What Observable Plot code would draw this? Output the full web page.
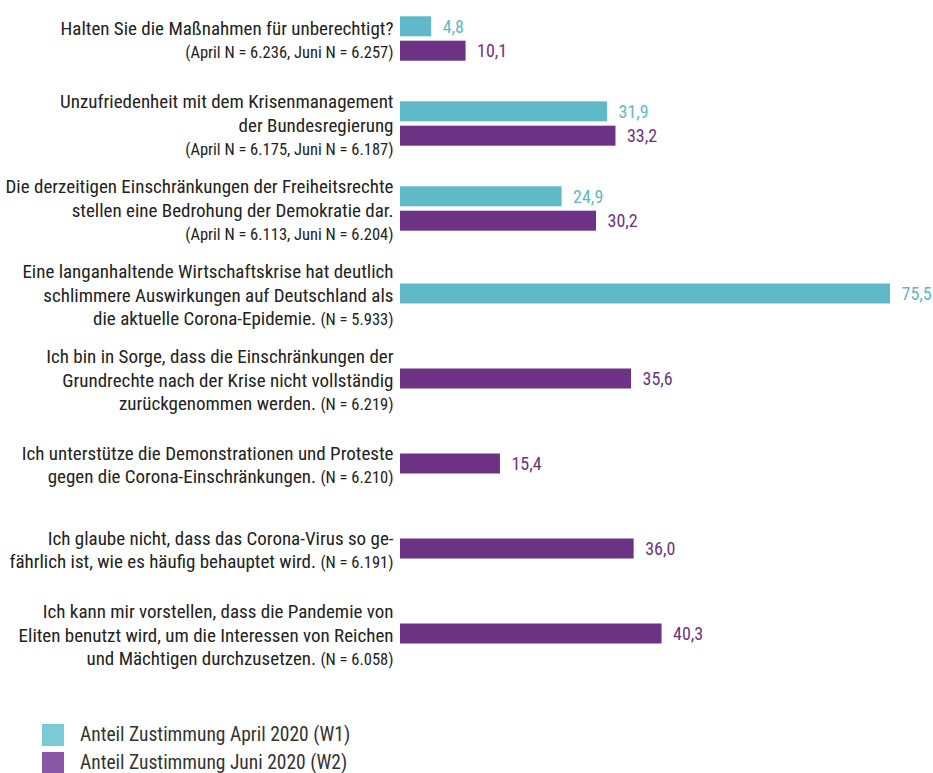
<!DOCTYPE html>
<html lang="de">
<head>
<meta charset="utf-8">
<script src="https://cdn.jsdelivr.net/npm/d3@7"></script>
<script src="https://cdn.jsdelivr.net/npm/@observablehq/plot@0.6"></script>
<style>
  html, body { margin: 0; padding: 0; background: #fff; }
  body { width: 933px; height: 773px; overflow: hidden; font-family: "Liberation Sans Narrow", "Roboto Condensed", "DejaVu Sans Condensed", sans-serif; }
  #legend { padding-left: 42px; padding-top: 16px; }
  .item { display: flex; align-items: center; height: 28px; font-size: 19.5px; line-height: 1; color: #333; }
  .sw { width: 22px; height: 22px; margin-right: 16px; flex: none; }
</style>
</head>
<body>
<div id="chart"></div>
<div id="legend"></div>
<script>
const statements = [
  "Halten Sie die Maßnahmen für unberechtigt?\n(April N = 6.236, Juni N = 6.257)",
  "Unzufriedenheit mit dem Krisenmanagement\nder Bundesregierung\n(April N = 6.175, Juni N = 6.187)",
  "Die derzeitigen Einschränkungen der Freiheitsrechte\nstellen eine Bedrohung der Demokratie dar.\n(April N = 6.113, Juni N = 6.204)",
  "Eine langanhaltende Wirtschaftskrise hat deutlich\nschlimmere Auswirkungen auf Deutschland als\ndie aktuelle Corona-Epidemie. (N = 5.933)",
  "Ich bin in Sorge, dass die Einschränkungen der\nGrundrechte nach der Krise nicht vollständig\nzurückgenommen werden. (N = 6.219)",
  "Ich unterstütze die Demonstrationen und Proteste\ngegen die Corona-Einschränkungen. (N = 6.210)",
  "Ich glaube nicht, dass das Corona-Virus so ge-\nfährlich ist, wie es häufig behauptet wird. (N = 6.191)",
  "Ich kann mir vorstellen, dass die Pandemie von\nEliten benutzt wird, um die Interessen von Reichen\nund Mächtigen durchzusetzen. (N = 6.058)"
];
const april = [4.8, 31.9, 24.9, 75.5, null, null, null, null];
const june = [10.1, 33.2, 30.2, null, 35.6, 15.4, 36.0, 40.3];
const seriesNames = ["Anteil Zustimmung April 2020 (W1)", "Anteil Zustimmung Juni 2020 (W2)"];
const barColors = ["#5fb9c8", "#6c3385"];
const legendColors = ["#7ccad5", "#8a58a8"];

// build table
const rows = [];
statements.forEach((s, i) => {
  const both = april[i] != null && june[i] != null;
  if (april[i] != null) rows.push({label: s, series: 0, value: april[i], pos: both ? "upper" : "single"});
  if (june[i] != null) rows.push({label: s, series: 1, value: june[i], pos: both ? "lower" : "single"});
});
const fmt = v => v.toFixed(1).replace(".", ",");
const BAR_OFF = 12.2;
const ins = 32.5;

function barsAndLabels(pos, dy) {
  const data = rows.filter(r => r.pos === pos);
  return [
    Plot.barX(data, {
      x: "value", y: "label", dy,
      fill: d => barColors[d.series],
      insetTop: ins, insetBottom: ins
    }),
    Plot.text(data, {
      x: "value", y: "label", dy,
      text: d => fmt(d.value),
      fill: d => barColors[d.series],
      textAnchor: "start", dx: 11,
      fontSize: 18
    })
  ];
}

function smallNotes(index, scales, values, dimensions, context, next) {
  const g = next(index, scales, values, dimensions, context);
  g.querySelectorAll("tspan").forEach(t => {
    const s = t.textContent;
    const k = s.indexOf("(");
    if (k >= 0) {
      t.textContent = s.slice(0, k);
      const sub = document.createElementNS("http://www.w3.org/2000/svg", "tspan");
      sub.setAttribute("font-size", "16.5");
      sub.textContent = s.slice(k);
      t.appendChild(sub);
    }
  });
  return g;
}

const chart = Plot.plot({
  width: 933,
  height: 705,
  marginLeft: 400,
  marginRight: 43,
  marginTop: 0,
  marginBottom: 0,
  style: {fontFamily: '"Liberation Sans Narrow", "Roboto Condensed", "DejaVu Sans Condensed", sans-serif', background: "#fff"},
  x: {axis: null, domain: [0, d3.max(rows, d => d.value)]},
  y: {axis: null, domain: statements, range: [-6, 677], padding: 0},
  marks: [
    ...barsAndLabels("upper", -BAR_OFF),
    ...barsAndLabels("lower", BAR_OFF),
    ...barsAndLabels("single", 0),
    Plot.text(statements, {
      y: d => d, text: d => d,
      frameAnchor: "left", textAnchor: "end", dx: -7,
      lineAnchor: "middle", lineHeight: 1.25,
      fontSize: 19, fill: "#222",
      render: smallNotes
    })
  ]
});
document.getElementById("chart").appendChild(chart);

const legend = document.getElementById("legend");
seriesNames.forEach((n, i) => {
  const it = document.createElement("div");
  it.className = "item";
  const sw = document.createElement("span");
  sw.className = "sw";
  sw.style.background = legendColors[i];
  const tx = document.createElement("span");
  tx.textContent = n;
  it.appendChild(sw); it.appendChild(tx);
  legend.appendChild(it);
});
</script>
</body>
</html>
